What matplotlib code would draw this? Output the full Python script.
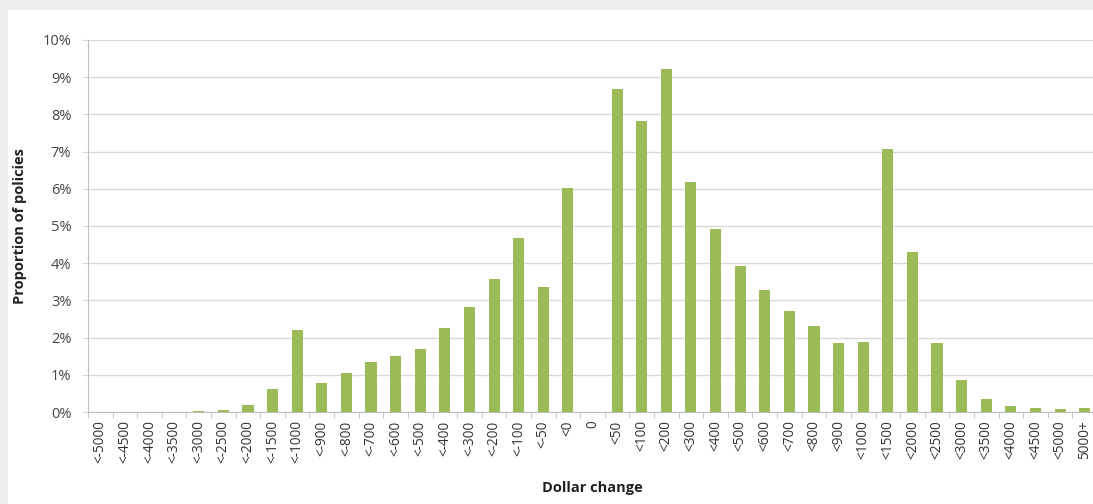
import matplotlib.pyplot as plt
from matplotlib.patches import Rectangle
from matplotlib.ticker import FuncFormatter

categories = ['<-5000', '<-4500', '<-4000', '<-3500', '<-3000', '<-2500', '<-2000',
              '<-1500', '<-1000', '<-900', '<-800', '<-700', '<-600', '<-500',
              '<-400', '<-300', '<-200', '<-100', '<-50', '<0', '0', '<50', '<100',
              '<200', '<300', '<400', '<500', '<600', '<700', '<800', '<900',
              '<1000', '<1500', '<2000', '<2500', '<3000', '<3500', '<4000',
              '<4500', '<5000', '5000+']
proportions = [0, 0, 0, 0, 0.03, 0.05, 0.19,
               0.63, 2.2, 0.78, 1.05, 1.34, 1.5, 1.7,
               2.25, 2.82, 3.57, 4.67, 3.35, 6.02, 0, 8.69, 7.82,
               9.23, 6.17, 4.92, 3.92, 3.28, 2.72, 2.32, 1.85,
               1.88, 7.06, 4.3, 1.85, 0.87, 0.36, 0.17,
               0.12, 0.08, 0.1]

W, H = 1093, 504
fig = plt.figure(figsize=(W / 100, H / 100), dpi=100)
fig.patch.set_facecolor('#ececec')
# white chart panel inside the grey frame
fig.patches.append(Rectangle((8 / W, 0), 1, 1 - 10 / H, transform=fig.transFigure,
                             facecolor='white', edgecolor='none', zorder=-10))

left, right = 88, 1097
ax = fig.add_axes([left / W, (H - 412) / H, (right - left) / W, (412 - 40) / H])
ax.set_facecolor('none')

x = list(range(len(categories)))
ax.bar(x, proportions, width=0.45, color='#9bbb59', zorder=3)

ax.set_xlim(-0.5, len(categories) - 0.5)
ax.set_ylim(0, 10)
ax.set_yticks(range(0, 11))
ax.yaxis.set_major_formatter(FuncFormatter(lambda v, p: '%d%%' % v))
ax.grid(axis='y', color='#d9d9d9', linewidth=1, zorder=0)

ax.set_xticks(x)
ax.set_xticklabels(categories, rotation=90, fontsize=9.8, color='#333333',
                   family='Open Sans')
ax.set_xticks([i - 0.5 for i in range(len(categories) + 1)], minor=True)
ax.tick_params(axis='x', which='major', length=0, pad=6)
ax.tick_params(axis='x', which='minor', length=4, color='#bfbfbf')
ax.tick_params(axis='y', length=4, pad=8, color='#d9d9d9', labelsize=10.5,
               labelcolor='#444444')
for lbl in ax.get_yticklabels():
    lbl.set_family('Open Sans')

for s in ['top', 'right']:
    ax.spines[s].set_visible(False)
ax.spines['left'].set_color('#bfbfbf')
ax.spines['bottom'].set_color('#bfbfbf')

fig.text(20 / W, 1 - 226 / H, 'Proportion of policies', rotation=90, ha='center',
         va='center', fontsize=10.5, fontweight='bold', family='Open Sans', color='#222222')
fig.text(592 / W, 1 - 488 / H, 'Dollar change', ha='center', va='center',
         fontsize=10.5, fontweight='bold', family='Open Sans', color='#222222')

fig.savefig('out.png', dpi=100, facecolor=fig.get_facecolor())
